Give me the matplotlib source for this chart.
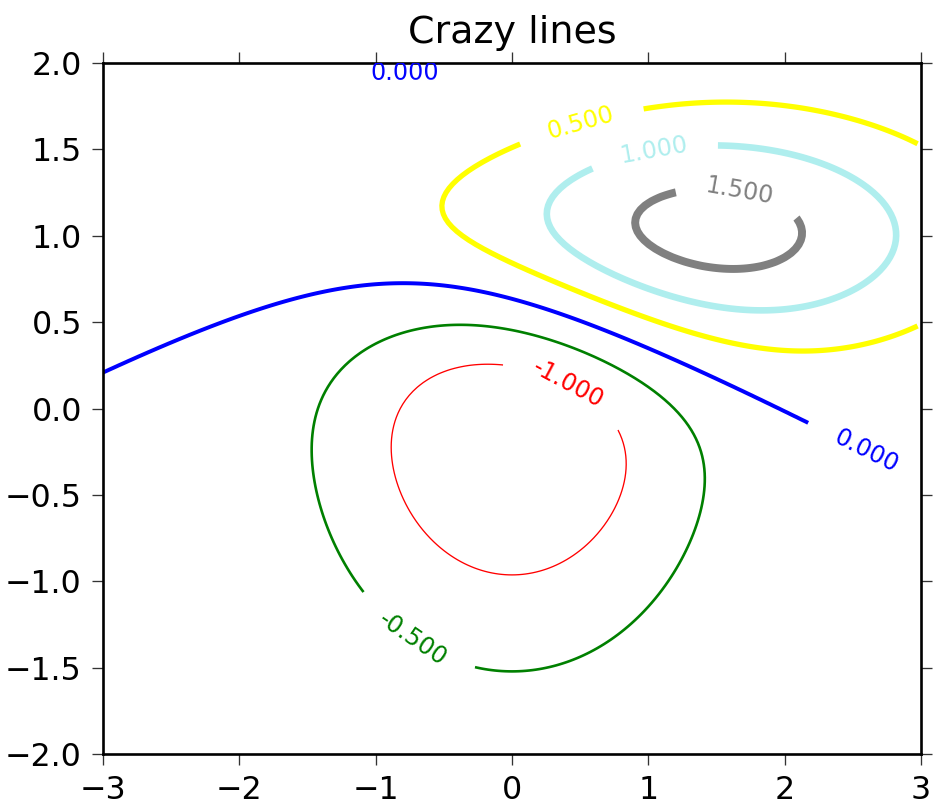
import numpy as np
import matplotlib
matplotlib.use("Agg")
import matplotlib.pyplot as plt
from matplotlib.path import Path

# Field definition: difference of two bivariate normal bumps (scaled)
delta = 0.025
x_range = (-3.0, 3.0)
y_range = (-2.0, 2.0)
bump1 = dict(sx=1.0, sy=1.0, mx=0.0, my=0.0)
bump2 = dict(sx=1.5, sy=0.5, mx=1.0, my=1.0)
scale = 10.0
levels = [-1.0, -0.5, 0.0, 0.5, 1.0, 1.5]
linewidths = [0.5, 1.0, 1.5, 2.0, 2.5, 3.0]
colors = ['r', 'green', 'blue', (1, 1, 0), '#afeeee', '0.5']
title = 'Crazy lines'
# approximate label anchor points
label_positions = [(-0.79, 1.93), (0.51, 1.64), (1.04, 1.50), (1.67, 1.26),
                   (0.40, 0.12), (2.60, -0.24), (-0.74, -1.35)]


def bivariate_normal(X, Y, sx, sy, mx, my):
    Xm = X - mx
    Ym = Y - my
    z = Xm ** 2 / sx ** 2 + Ym ** 2 / sy ** 2
    return np.exp(-z / 2) / (2 * np.pi * sx * sy)


x = np.arange(x_range[0], x_range[1], delta)
y = np.arange(y_range[0], y_range[1], delta)
X, Y = np.meshgrid(x, y)
Z1 = bivariate_normal(X, Y, **bump1)
Z2 = bivariate_normal(X, Y, **bump2)
Z = scale * (Z2 - Z1)

dpi = 190
plt.rcParams['font.family'] = ['DejaVu Sans']
plt.rcParams['font.size'] = 12
fig = plt.figure(figsize=(934 / dpi, 807 / dpi), dpi=dpi)
ax = fig.add_axes([103 / 934, 1 - 754 / 807, (921 - 103) / 934, (754 - 63) / 807])

ax.set_xlim(*x_range)
ax.set_ylim(*y_range)

CS = ax.contour(X, Y, Z, levels=levels, linewidths=linewidths, colors=colors)
ax.clabel(CS, fontsize=9, inline=True, inline_spacing=30, fmt='%1.3f',
          manual=label_positions)

# drop the tiny zero-level fragment hugging the top edge (fully covered by its label)
paths = CS.get_paths()
i0 = levels.index(0.0)
p = paths[i0]
verts = p.vertices
codes = p.codes
if codes is None:
    codes = np.full(len(verts), Path.LINETO, dtype=np.uint8)
    codes[0] = Path.MOVETO
starts = np.where(codes == Path.MOVETO)[0]
groups = np.split(np.arange(len(verts)), starts[1:]) if len(starts) else [np.arange(len(verts))]
keep = [g for g in groups if len(g) and not (verts[g, 1] > 1.85).all()]
if keep:
    idx = np.concatenate(keep)
    paths[i0] = Path(verts[idx], codes[idx])

ax.set_xticks(np.arange(-3, 3.01, 1))
ax.set_yticks(np.arange(-2, 2.01, 0.5))
ax.tick_params(direction='out', length=4, width=0.5, top=True, right=True,
               labelsize=12, pad=4, color='#333333')
for s in ax.spines.values():
    s.set_linewidth(1.0)

ax.set_title(title, fontsize=14.4, pad=7.6)

fig.savefig('out.png', dpi=dpi)
